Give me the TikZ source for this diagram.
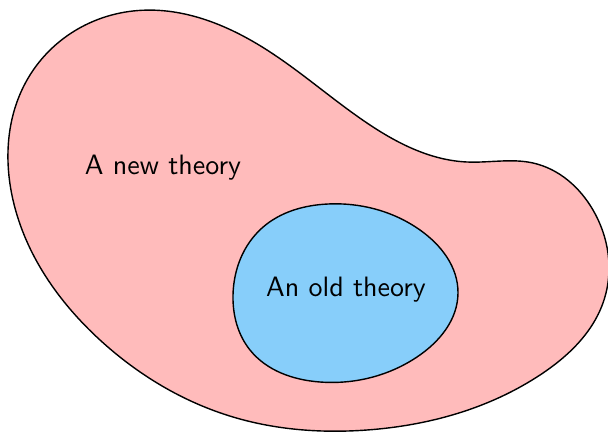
\documentclass[tikz,border=0pt]{standalone}
\usepackage{tikz}
\usetikzlibrary{positioning, hobby}
\definecolor{newpink}{RGB}{255,187,187}
\definecolor{oldblue}{RGB}{135,206,250}
\tikzset{
    x=0.357pt, y=-0.357pt, % pixel-like units
    blob/.style={draw=black, line width=0.5pt, use Hobby shortcut, closed=true}, % Outline of a theory
    label text/.style={font=\sffamily}, % Text of a theory
}

\begin{document}
\begin{tikzpicture}
    \useasboundingbox (0,0) rectangle (608,431);
    % New theory
    \draw[blob, fill=newpink] (133,11) .. (267,50) .. (367,123) .. (467,162)
        .. (533,163) .. (593,210) .. (604,300) .. (540,375) .. (367,430)
        .. (233,417) .. (100,340) .. (13,200) .. (30,75);
    % Old theory
    \draw[blob, fill=oldblue] (328,204) .. (420,230) .. (458,293) .. (417,357)
        .. (320,382) .. (250,350) .. (233,295) .. (262,228);
    % Labels
    \node[label text] (newtheory) at (163,168) {A new theory};
    \node[label text] (oldtheory) at (346,290) {An old theory};
\end{tikzpicture}
\end{document}
